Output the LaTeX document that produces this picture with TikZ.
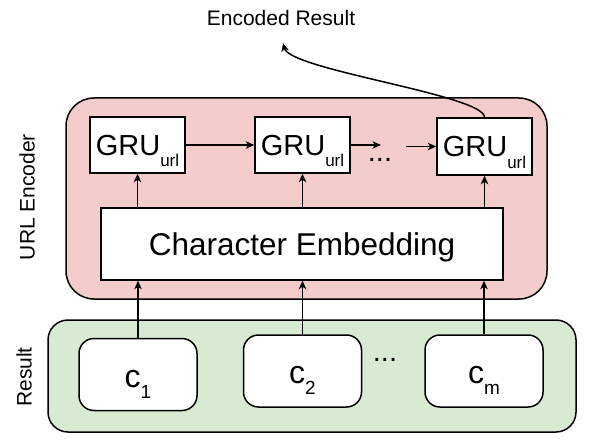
\documentclass[tikz,border=0pt]{standalone}
\usepackage{fontspec}
\setmainfont{Liberation Sans}
\usetikzlibrary{arrows.meta}
\definecolor{pinkfill}{HTML}{F4CCCC}
\definecolor{greenfill}{HTML}{D9EAD3}
\newcommand{\fsz}[1]{\fontsize{#1}{#1}\selectfont}
\begin{document}
\begin{tikzpicture}[x=1pt,y=-1pt,line width=1.5pt,
  group/.style={draw,inner sep=0pt,line width=1.5pt},
  box/.style={draw,fill=white,inner sep=0pt,line width=1.5pt},
  grubox/.style={box,minimum width=95pt,minimum height=56pt,text height=20.6pt,text depth=0pt},
  cbox/.style={box,rounded corners=15pt,minimum width=118pt,minimum height=72pt,text height=25pt,text depth=0pt},
  conn/.style={-{Stealth[length=8.5pt,width=7.5pt,inset=2.5pt]},line width=1.5pt},
  lbl/.style={inner sep=0pt,font=\fsz{21}}]
\useasboundingbox (0,0) rectangle (589,441);
% groups
\node[group,fill=pinkfill,rounded corners=28pt,minimum width=481pt,minimum height=201pt] (enc) at (306.5,198.5) {};
\node[group,fill=greenfill,rounded corners=20pt,minimum width=528pt,minimum height=112pt] (res) at (312,376) {};
% GRUs
\newcommand{\gru}{{\fsz{29}GRU}\raisebox{-11.4pt}{\fsz{17}url}}
\node[grubox] (g1) at (137.5,145) {\gru};
\node[grubox] (g2) at (302.5,145) {\gru};
\node[grubox,minimum height=57pt] (g3) at (484.5,146.5) {\gru};
% embedding
\node[box,minimum width=402pt,minimum height=72pt,text height=22pt,text depth=0pt,font=\fsz{31.5}] (emb) at (302,244) {Character Embedding};
% chars
\node[cbox] (c1) at (138,374.5) {{\fsz{32}c}\raisebox{-11pt}{\fsz{19}1}};
\node[cbox] (c2) at (302.5,371) {{\fsz{32}c}\raisebox{-11pt}{\fsz{19}2}};
\node[cbox] (cm) at (484,371) {{\fsz{32}c}\raisebox{-11pt}{\fsz{19}m}};
% dots
\node[inner sep=0pt,anchor=base,font=\fsz{29}] (d1) at (380,161) {...};
\node[inner sep=0pt,anchor=base,font=\fsz{29}] (d2) at (385,361) {...};
% labels
\node[lbl] (t1) at (281,18) {Encoded Result};
\node[lbl,rotate=90] (t2) at (27,197) {URL Encoder};
\node[lbl,rotate=90] (t3) at (24,377) {Result};
% connectors
\foreach \c/\g in {c1/g1,c2/g2,cm/g3}{
  \draw[conn] (\c.north) -- (\c.north |- emb.south);
  \draw[conn] (emb.north -| \g.south) -- (\g.south);
}
\draw[conn] (g1.east) -- (g2.west);
\coordinate (a2) at (381,145);
\coordinate (a3) at (406,146.5);
\coordinate (out) at (283,43);
\draw[conn] (g2.east) -- (a2);
\draw[conn] (a3) -- (g3.west);
\draw[conn] (g3.north) .. controls (484.5,95) and (290,70) .. (out);
\end{tikzpicture}
\end{document}
